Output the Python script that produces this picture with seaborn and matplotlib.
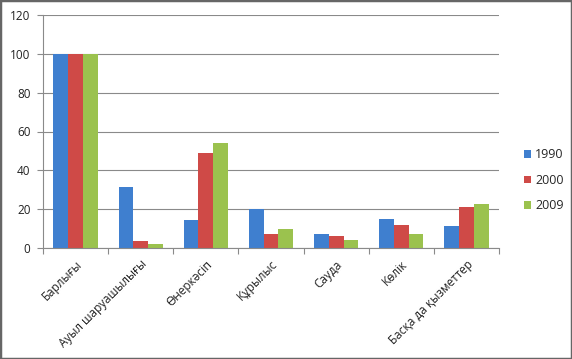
import matplotlib
matplotlib.use("Agg")
import matplotlib.pyplot as plt
import seaborn as sns
import pandas as pd
import numpy as np

categories = ["Барлығы", "Ауыл шаруашылығы", "Өнеркәсіп", "Құрылыс", "Сауда", "Көлік", "Басқа да қызметтер"]
years = ["1990", "2000", "2009"]
v1990 = [100, 31.3, 14.4, 20.0, 7.0, 14.9, 11.5]
v2000 = [100, 3.8, 48.9, 7.2, 6.2, 11.8, 21.0]
v2009 = [100, 2.0, 53.9, 9.6, 4.3, 7.2, 22.7]
colors = ["#3f7fcf", "#cf4a47", "#9bc24e"]

rows = []
for y, vals in zip(years, [v1990, v2000, v2009]):
    for c, v in zip(categories, vals):
        rows.append({"cat": c, "year": y, "value": v})
df = pd.DataFrame(rows)

sns.set_theme(style="white")
plt.rcParams['font.family'] = ['Open Sans', 'DejaVu Sans']

fig = plt.figure(figsize=(5.72, 3.59), dpi=100)
ax = fig.add_axes([43/572, 1-248/359, (499-43)/572, (248-15)/359])

sns.barplot(data=df, x="cat", y="value", hue="year", palette=colors,
            width=0.68, ax=ax, saturation=1, edgecolor="none", linewidth=0)

ax.set_ylim(0, 120)
ax.set_xlim(-0.5, len(categories) - 0.5)
ax.set_yticks(np.arange(0, 121, 20))
ax.yaxis.grid(True, color="#8a8a8a", linewidth=0.8)
ax.set_axisbelow(True)
for s in ["top", "right"]:
    ax.spines[s].set_visible(False)
ax.spines["left"].set_color("#8a8a8a")
ax.spines["bottom"].set_color("#8a8a8a")
ax.spines["left"].set_linewidth(0.8)
ax.spines["bottom"].set_linewidth(0.8)
ax.set_xlabel("")
ax.set_ylabel("")

ax.tick_params(axis="y", labelsize=8.5, colors="#8a8a8a", labelcolor="#222222", length=4, width=0.8, direction="out", left=True, pad=5)
ax.set_xticks(range(len(categories)))
ax.set_xticklabels(categories, rotation=45, ha="right", rotation_mode="anchor", fontsize=8.5, color="#222222")
ax.tick_params(axis="x", length=0, pad=7)
# boundary ticks
ax.set_xticks(np.arange(-0.5, len(categories), 1), minor=True)
ax.tick_params(axis="x", which="minor", length=4, width=0.8, color="#8a8a8a", direction="out", bottom=True)

leg = ax.legend(loc="center left", bbox_to_anchor=(1.03, 0.29), frameon=False,
                fontsize=9, handlelength=0.6, handleheight=0.6, handletextpad=0.3, labelspacing=1.0)

fig.patches.append(matplotlib.patches.Rectangle((0, 0), 1, 1, transform=fig.transFigure,
                   fill=False, edgecolor="#666666", linewidth=2.5))

fig.savefig("out.png", dpi=100)
